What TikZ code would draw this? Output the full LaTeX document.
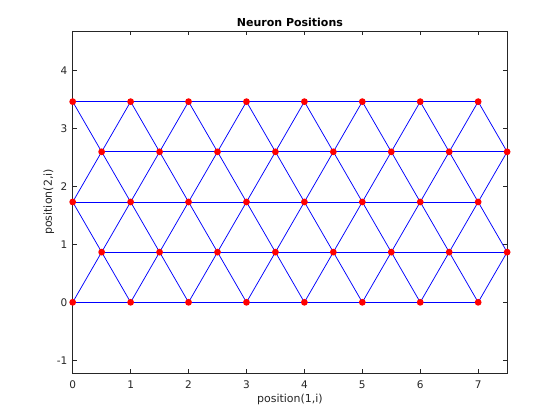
\documentclass[tikz,border=0pt]{standalone}
\usepackage{fontspec}
\setmainfont{DejaVu Sans}
\usetikzlibrary{positioning}
\definecolor{axgray}{RGB}{38,38,38}
\definecolor{somblue}{RGB}{0,0,255}
\definecolor{somred}{RGB}{255,0,0}

\tikzset{
  neuron/.style={circle, fill=somred, inner sep=0pt, minimum size=6.8pt},
  link/.style={draw=somblue, line width=0.75pt},
  axisline/.style={axgray, line width=0.6pt},
  ticklabel/.style={font=\fontsize{10.5}{12}\selectfont, text=axgray, inner sep=0pt},
  axislabel/.style={font=\fontsize{11}{13}\selectfont, text=axgray, inner sep=0pt},
}

\begin{document}
\begin{tikzpicture}[x=57.92pt, y=57.92pt]
  % Background
  \fill[white] (-1.255,-2.032) rectangle (8.413,5.219);
  \useasboundingbox (-1.255,-2.032) rectangle (8.413,5.219);

  % Title
  \node[font=\fontsize{11}{13}\selectfont\bfseries, text=black] (title) at (3.75,4.83) {Neuron Positions};

  % Axes box and ticks
  \draw[axisline] (0,-1.221) rectangle (7.5,4.686);
  \foreach \x in {0,...,7} {
    \draw[axisline] (\x,-1.221) -- ++(0,4pt);
    \draw[axisline] (\x,4.686) -- ++(0,-4pt);
    \node[ticklabel] (xtick\x) at (\x,-1.416) {\x};
  }
  \foreach \y in {-1,...,4} {
    \draw[axisline] (0,\y) -- ++(4pt,0);
    \draw[axisline] (7.5,\y) -- ++(-4pt,0);
    \node[ticklabel, anchor=east] (ytick\y) at (-0.09,\y) {\y};
  }

  % Axis labels
  \node[axislabel] (xlabel) at (3.75,-1.67) {position(1,i)};
  \node[axislabel, rotate=90] (ylabel) at (-0.41,1.732) {position(2,i)};

  % Neuron grid positions
  \foreach \j in {0,...,4}
    \foreach \i in {0,...,7}
      \coordinate (c\i-\j) at ({\i+0.5*mod(\j,2)},{\j*0.8660254});

  % Links within rows
  \foreach \j in {0,...,4}
    \foreach \i in {0,...,6} {
      \pgfmathtruncatemacro{\inext}{\i+1}
      \path[link] (c\i-\j) -- (c\inext-\j);
    }

  % Links between rows
  \foreach \j in {0,...,3}
    \foreach \i in {0,...,7} {
      \pgfmathtruncatemacro{\jn}{\j+1}
      \path[link] (c\i-\j) -- (c\i-\jn);
      \pgfmathtruncatemacro{\io}{\i+2*mod(\j,2)-1}
      \ifnum\io>-1 \ifnum\io<8 \path[link] (c\i-\j) -- (c\io-\jn); \fi\fi
    }

  % Neurons
  \foreach \j in {0,...,4}
    \foreach \i in {0,...,7}
      \node[neuron] (n\i-\j) at (c\i-\j) {};
\end{tikzpicture}
\end{document}
